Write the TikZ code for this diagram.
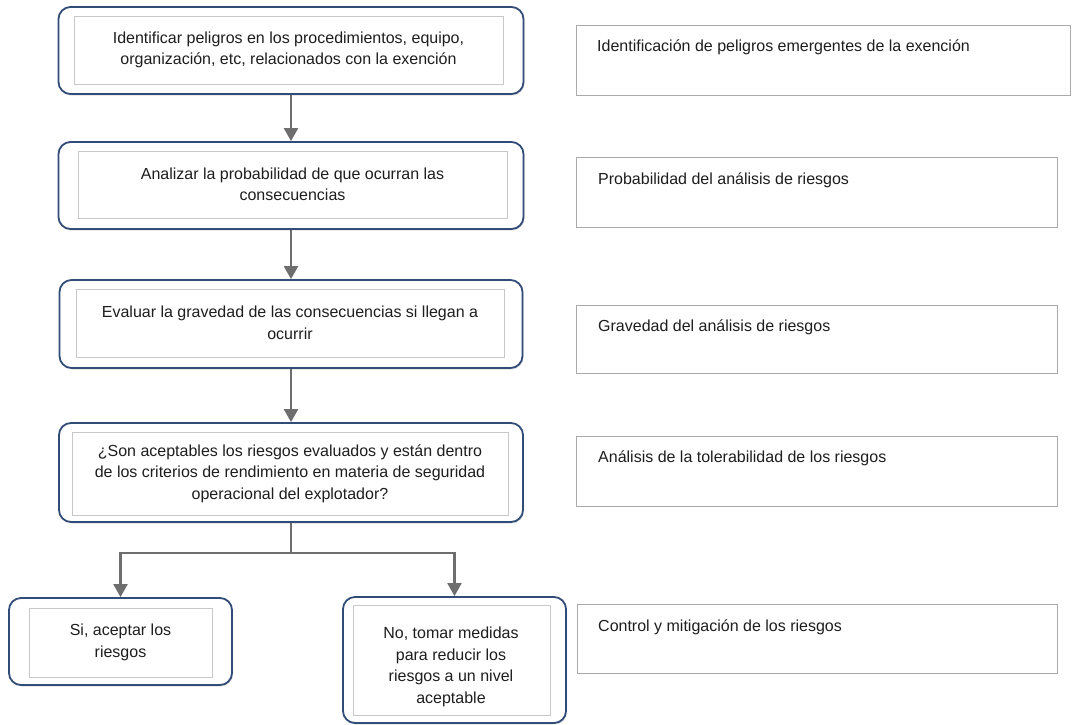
\documentclass[tikz,border=0pt]{standalone}
\usepackage{fontspec}
\setmainfont{Liberation Sans}
\usetikzlibrary{arrows.meta,shadows}
\definecolor{outerblue}{RGB}{50,76,120}
\definecolor{arrgray}{RGB}{110,110,110}
\definecolor{innergray}{RGB}{200,200,200}
\definecolor{sidegray}{RGB}{170,170,170}
\definecolor{txt}{RGB}{30,30,30}
\tikzset{
  outerbox/.style={draw=outerblue, line width=1.8pt, rounded corners=12pt, fill=white,
    drop shadow={shadow xshift=1pt, shadow yshift=-1.5pt, opacity=0.25},
    minimum width=#1, inner sep=0pt},
  innerbox/.style={draw=innergray, line width=0.7pt, fill=white, inner sep=0pt,
    text=txt, align=center, font=\fontsize{16}{21.5}\selectfont},
  plaintext/.style={text=txt, align=center, inner sep=0pt, font=\fontsize{16}{21.5}\selectfont},
  sidebox/.style={draw=sidegray, line width=0.8pt, fill=white, inner sep=0pt,
    drop shadow={shadow xshift=0.6pt, shadow yshift=-0.8pt, opacity=0.2}},
  sidetext/.style={anchor=west, text=txt, inner sep=0pt, font=\fontsize{16}{21}\selectfont},
  arr/.style={draw=arrgray, line width=2.2pt, -{Triangle[width=14pt,length=13pt]}},
  conn/.style={draw=arrgray, line width=2.2pt},
}
\begin{document}
\begin{tikzpicture}[x=1pt,y=-1pt]
\path[use as bounding box, fill=white] (0,0) rectangle (1072,724);

% left column outer boxes
\node[outerbox=465pt, minimum height=87pt] (b1) at (291,50.5) {};
\node[outerbox=465pt, minimum height=87pt] (b2) at (291,185.5) {};
\node[outerbox=463pt, minimum height=88pt] (b3) at (291,324) {};
\node[outerbox=464pt, minimum height=99pt] (b4) at (291,472.5) {};
\node[outerbox=223pt, minimum height=87pt] (b5) at (120.5,641.5) {};
\node[outerbox=223pt, minimum height=126pt] (b6) at (454.5,660) {};

% inner boxes with text
\node[innerbox, minimum width=429pt, minimum height=68pt] (b1i) at (288.5,50)
  {Identificar peligros en los procedimientos, equipo,\\organización, etc, relacionados con la exención};
\node[innerbox, minimum width=429pt, minimum height=67pt] (b2i) at (292.5,184.5)
  {Analizar la probabilidad de que ocurran las\\consecuencias};
\node[innerbox, minimum width=428pt, minimum height=68pt] (b3i) at (290,323)
  {Evaluar la gravedad de las consecuencias si llegan a\\ocurrir};
\node[innerbox, minimum width=436pt, minimum height=83pt] (b4i) at (290,473.5)
  {¿Son aceptables los riesgos evaluados y están dentro\\de los criterios de rendimiento en materia de seguridad\\operacional del explotador?};
\node[innerbox, minimum width=183pt, minimum height=69pt] (b5i) at (120.5,642.5)
  {Si, aceptar los\\riesgos};
\node[innerbox, minimum width=197pt, minimum height=110pt] (b6i) at (451.5,660) {};
\node[plaintext] (b6t) at (451,667)
  {No, tomar medidas\\para reducir los\\riesgos a un nivel\\aceptable};

% right column boxes
\node[sidebox, minimum width=494pt, minimum height=70pt] (r1) at (823,60) {};
\node[sidebox, minimum width=481pt, minimum height=70pt] (r2) at (816.5,192) {};
\node[sidebox, minimum width=481pt, minimum height=68pt] (r3) at (816.5,339) {};
\node[sidebox, minimum width=481pt, minimum height=70pt] (r4) at (816.5,471) {};
\node[sidebox, minimum width=480pt, minimum height=69pt] (r5) at (817,638.5) {};

\node[sidetext] (t1) at (597,47) {Identificación de peligros emergentes de la exención};
\node[sidetext] (t2) at (598,180) {Probabilidad del análisis de riesgos};
\node[sidetext] (t3) at (598,327) {Gravedad del análisis de riesgos};
\node[sidetext] (t4) at (598,458) {Análisis de la tolerabilidad de los riesgos};
\node[sidetext] (t5) at (598,627) {Control y mitigación de los riesgos};

% connectors
\draw[arr] (b1.south) -- (b2.north);
\draw[arr] (b2.south) -- (b3.north);
\draw[arr] (b3.south) -- (b4.north);
\coordinate (split) at ([yshift=-30pt]b4.south);
\draw[conn] (b4.south) -- (split);
\draw[arr] (split) -| (b5.north);
\draw[arr] (split) -| (b6.north);
\end{tikzpicture}
\end{document}
